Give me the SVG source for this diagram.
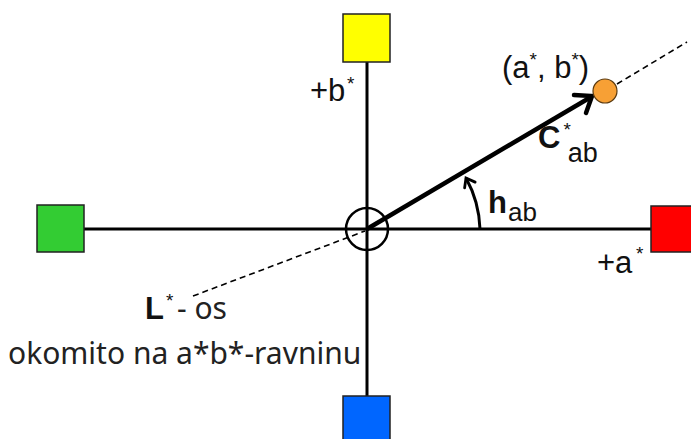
<svg xmlns="http://www.w3.org/2000/svg" width="691" height="439" viewBox="0 0 691 439">
<style>
.ax{stroke:#000;stroke-width:3;fill:none}
.sq{stroke:#222;stroke-width:1.5}
.dash{stroke:#000;stroke-width:1.6;stroke-dasharray:6 4;fill:none}
.lbl{font-family:"Liberation Sans",Arial,sans-serif;font-size:31px;fill:#111}
.b{font-weight:bold}
.sup{font-size:19px}
.noto{font-family:"Noto Sans","Open Sans",sans-serif;font-size:30px;fill:#222}
</style>
<defs>
<marker id="ah2" markerUnits="userSpaceOnUse" markerWidth="20" markerHeight="20" refX="0" refY="0" orient="auto" viewBox="-10 -10 20 20">
<path d="M-8,-6 L0,0 L-8,6" fill="none" stroke="#000" stroke-width="2.8" stroke-linecap="round"/>
</marker>
</defs>
<g id="connectors">
<line class="ax" x1="84" y1="229" x2="651" y2="229"/>
<line class="ax" x1="367" y1="62" x2="367" y2="396"/>
<path class="dash" d="M193,296 L365,231"/>
<path class="dash" d="M617,84 L687,42"/>
<path d="M480,229 A113,113 0 0 0 466,178" fill="none" stroke="#000" stroke-width="3" marker-end="url(#ah2)"/>
<line x1="367" y1="229" x2="591" y2="97" stroke="#000" stroke-width="4.5"/>
<path d="M574,95 L592,96 L586,113" fill="none" stroke="#000" stroke-width="4.5" stroke-linecap="round" stroke-linejoin="miter"/>
</g>
<g id="origin"><circle cx="367" cy="229" r="21" fill="none" stroke="#000" stroke-width="2.5"/></g>
<g id="yellow"><rect class="sq" x="343" y="14" width="47" height="48" fill="#FFFF00"/></g>
<g id="green"><rect class="sq" x="37" y="205" width="47" height="47" fill="#33CC33"/></g>
<g id="red"><rect class="sq" x="651" y="206" width="47" height="46" fill="#FF0000"/></g>
<g id="blue"><rect class="sq" x="343" y="396" width="47" height="48" fill="#0066FF"/></g>
<g id="point"><circle cx="605" cy="91" r="12" fill="#F7A035" stroke="#5a3a10" stroke-width="1.2"/></g>
<g id="labels">
<text class="lbl" x="310" y="101">+b</text><text class="lbl sup" x="347" y="90">*</text>
<text class="lbl" x="502" y="78">(a<tspan class="sup" dy="-12">*</tspan><tspan dy="12">, b</tspan><tspan class="sup" dy="-12">*</tspan><tspan dy="12">)</tspan></text>
<text class="lbl b" x="538" y="148" font-size="35">C<tspan class="sup" font-weight="normal" dx="3" dy="-12">*</tspan><tspan font-size="27" font-weight="normal" dx="-3" dy="26">ab</tspan></text>
<text class="lbl b" x="488" y="213" font-size="35">h<tspan font-size="26" font-weight="normal" dx="1" dy="8">ab</tspan></text>
<text class="lbl" x="597" y="273">+a</text><text class="lbl sup" x="636" y="260">*</text>
<text class="lbl b" x="145" y="319" font-size="32">L</text><text class="lbl sup" x="166" y="307">*</text><text class="noto" x="177" y="319">- os</text>
<text class="noto" x="8" y="364">okomito na a*b*-ravninu</text>
</g>
</svg>
